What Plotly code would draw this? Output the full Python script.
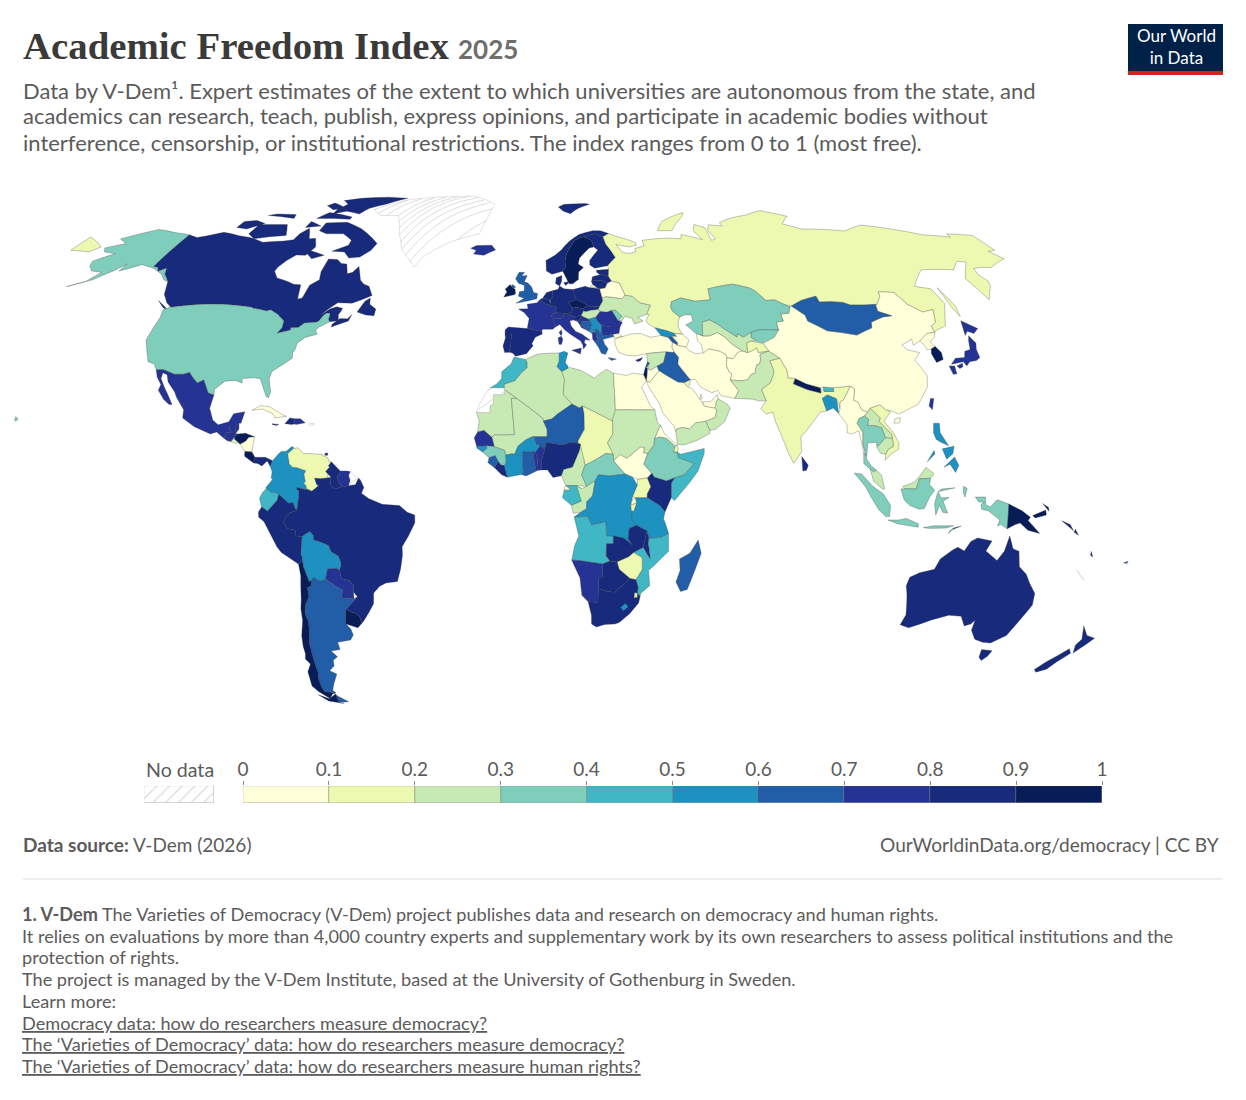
#import libraries
import numpy as np
import plotly.graph_objects as go

W = 1246
H = 1100
PAGE_MARGIN = 8  # the browser puts the plot 8px in from the page corner
TEXT_PAD = 2  # annotations sit this far inside their anchor

# Colour bins
tick_values = [0, 0.1, 0.2, 0.3, 0.4, 0.5, 0.6, 0.7, 0.8, 0.9, 1]
tick_labels = ["0", "0.1", "0.2", "0.3", "0.4", "0.5", "0.6", "0.7", "0.8", "0.9", "1"]
bin_colors = ["#ffffd9", "#edf8b1", "#c7e9b4", "#7fcdbb", "#41b6c4",
              "#1d91c0", "#225ea8", "#253494", "#172a7b", "#081d58"]

# Values estimated from the map colours (the middle of each bin)
countries = [
    "Canada", "USA", "Alaska", "Hawaii", "Mexico", "Guatemala", "Belize", "Honduras", "El Salvador", "Nicaragua",
    "Costa Rica", "Panama", "Cuba", "Jamaica", "Haiti", "Dominican Rep.", "Trinidad", "Colombia", "Venezuela",
    "Guyana", "Suriname", "Ecuador", "Peru", "Brazil", "Bolivia", "Paraguay", "Argentina", "Chile", "Uruguay",
    "Iceland", "Ireland", "UK", "France", "Spain", "Portugal", "Belgium", "Netherlands", "Luxembourg", "Germany",
    "Denmark", "Switzerland", "Austria", "Italy", "Poland", "Czechia", "Slovakia", "Hungary", "Slovenia", "Croatia",
    "Bosnia", "Serbia", "Kosovo", "Montenegro", "Albania", "N. Macedonia", "Greece", "Bulgaria", "Romania", "Moldova",
    "Ukraine", "Belarus", "Lithuania", "Latvia", "Estonia", "Finland", "Sweden", "Norway", "Russia", "Turkey",
    "Georgia", "Armenia", "Azerbaijan", "Cyprus", "Syria", "Lebanon", "Israel", "Jordan", "Iraq", "Saudi Arabia",
    "Kuwait", "Qatar", "UAE", "Oman", "Yemen", "Iran", "Afghanistan", "Pakistan", "India", "Nepal", "Bhutan",
    "Bangladesh", "Sri Lanka", "China", "Mongolia", "Kazakhstan", "Kyrgyzstan", "Tajikistan", "Uzbekistan",
    "Turkmenistan", "North Korea", "South Korea", "Japan", "Taiwan", "Myanmar", "Thailand", "Laos", "Vietnam",
    "Cambodia", "Malaysia", "Indonesia", "Timor-Leste", "Philippines", "Papua New Guinea", "Solomon Islands",
    "Vanuatu", "Fiji", "Australia", "New Zealand", "Morocco", "Algeria", "Tunisia", "Libya", "Egypt", "Mauritania",
    "Mali", "Niger", "Chad", "Sudan", "South Sudan", "Eritrea", "Ethiopia", "Djibouti", "Somalia", "Senegal",
    "Guinea-Bissau", "Guinea", "Sierra Leone", "Liberia", "Ivory Coast", "Burkina Faso", "Ghana", "Togo", "Benin",
    "Nigeria", "Cameroon", "Central African Rep.", "Eq. Guinea", "Gabon", "Congo", "DR Congo", "Uganda", "Kenya",
    "Rwanda", "Burundi", "Tanzania", "Angola", "Zambia", "Malawi", "Mozambique", "Zimbabwe", "Botswana", "Namibia",
    "South Africa", "Lesotho", "Eswatini", "Madagascar",
]
academic_freedom = [
    0.85, 0.35, 0.35, 0.35, 0.75, 0.75, 0.75, 0.95, 0.15, 0.05,
    0.95, 0.85, 0.05, 0.75, 0.85, 0.75, 0.85, 0.55, 0.15,
    0.85, 0.75, 0.45, 0.85, 0.85, 0.55, 0.75, 0.65, 0.95, 0.95,
    0.75, 0.95, 0.65, 0.75, 0.85, 0.85, 0.85, 0.85, 0.85, 0.85,
    0.85, 0.75, 0.85, 0.75, 0.85, 0.95, 0.85, 0.25, 0.85, 0.75,
    0.65, 0.55, 0.65, 0.55, 0.75, 0.65, 0.65, 0.75, 0.75, 0.35,
    0.25, 0.05, 0.85, 0.85, 0.85, 0.85, 0.95, 0.85, 0.15, 0.05,
    0.55, 0.65, 0.05, 0.85, 0.25, 0.65, 0.95, 0.05, 0.65, 0.05,
    0.15, 0.05, 0.05, 0.25, 0.25, 0.05, 0.05, 0.25, 0.15, 0.95, 0.45,
    0.55, 0.85, 0.05, 0.65, 0.35, 0.35, 0.15, 0.25,
    0.05, 0.05, 0.95, 0.75, 0.75, 0.05, 0.35, 0.25, 0.15,
    0.25, 0.25, 0.35, 0.75, 0.55, 0.95, 0.85,
    0.85, 0.65, 0.85, 0.85, 0.45, 0.25, 0.55, 0.25, 0.05, 0.25,
    0.25, 0.65, 0.15, 0.25, 0.05, 0.05, 0.35, 0.15, 0.45, 0.75,
    0.55, 0.35, 0.65, 0.85, 0.55, 0.55, 0.65, 0.75, 0.75,
    0.85, 0.25, 0.35, 0.05, 0.45, 0.25, 0.55, 0.15, 0.85,
    0.05, 0.15, 0.55, 0.45, 0.85, 0.85, 0.45, 0.15, 0.85, 0.75,
    0.85, 0.55, 0.15, 0.65,
]
no_data_countries = ["Greenland", "Western Sahara", "French Guiana", "Puerto Rico", "New Caledonia"]

# plotly's own basemap needs the network, so the outlines are rough hand estimates (lon,lat)
outlines = {
    "Canada": "-122.8,49 -95.2,49 -94.6,48.7 -92.6,48.5 -89.6,48 -88.4,48.3 -84.9,46.9 -84.3,46.4 -83.6,46.1 -82.4,45.3 -82.1,43.6 -83.1,42.1 -79,42.9 -79.2,43.5 -76.8,43.6 -75.3,44.8 -71.5,45 -70.7,45.4 -70,46.7 -69.2,47.4 -68.2,47.4 -67.8,47.1 -67.8,45.7 -67.1,45.1 -64.4,45.4 -65,47 -64.5,47.9 -64.3,48.7 -66.5,49.1 -68.5,48.5 -71.1,46.8 -69,48.5 -66.6,50.2 -61.7,50.1 -58.8,51 -55.7,52.2 -57.9,54.7 -60,55.3 -61.8,56.4 -64.6,60.3 -65.9,58.6 -67.6,58.2 -69.6,61 -71.7,61.1 -74,62.3 -77.5,62.4 -77.6,58.8 -76.6,56.5 -79.1,55 -79.5,51.5 -80.9,51.2 -82.3,55.1 -85,55.3 -87.4,56 -92.2,57 -94.7,58.9 -94.5,60.1 -93,62 -90.8,63.6 -87.2,63.5 -85.5,66 -88,68.6 -90.5,68.5 -94,71.8 -96,70 -96.5,68.2 -99.9,67.8 -108,67.4 -115,68.9 -120,69.4 -128,70.5 -133.5,69.3 -136.5,68.9 -141,69.7 -141,60.3 -139,60 -137.5,58.9 -135.5,59.8 -134,58.1 -130.5,56 -128,52.5 -125,50.2 -123,49.2|-80,73.7 -72,71.6 -68,70 -62,67 -63,65 -66,63 -70,62.7 -73,64.5 -78,64.7 -73,66.5 -73,68 -78,70 -85,70 -89,71 -89,73.5|-105,73 -101,69.5 -113,68.5 -117,70 -117,73 -110,73|-125,72 -120,71.5 -115,73.3 -120,74.3 -125,74|-90,76.5 -85,77.5 -78,76.5 -76,78.5 -70,80 -62,82.5 -72,83 -85,82.5 -92,81.5 -88,80 -90,78|-95,75 -80,74.7 -80,75.5 -92,77|-96,74 -90,72.5 -96,72|-95,80.5 -87,78.5 -92,78 -97,79.5|-118,76 -105,75 -106,76.3 -115,76.5|-87,65 -80,63.5 -84,62.5 -87,64|-59,47.7 -55.8,46.9 -53,46.7 -53,48.5 -55.5,49.8 -56,51.5 -57.5,50.6|-128.4,50.8 -123.5,48.5 -125,48.8|-66.1,43.7 -61,45.3 -60.5,47 -61.5,45.9 -64,46 -66,44.5",
    "USA": "-122.8,49 -95.2,49 -94.6,48.7 -92.6,48.5 -89.6,48 -88.4,48.3 -84.9,46.9 -84.3,46.4 -83.6,46.1 -82.4,45.3 -82.1,43.6 -83.1,42.1 -79,42.9 -79.2,43.5 -76.8,43.6 -75.3,44.8 -71.5,45 -70.7,45.4 -70,46.7 -69.2,47.4 -68.2,47.4 -67.8,47.1 -67.8,45.7 -67.1,45.1 -70,43.7 -70.8,42.9 -70,41.8 -73.7,40.9 -74,40.5 -75.5,39.5 -75.5,38 -76,36.9 -75.7,35.5 -77.9,34 -81,32 -81.3,30 -80.1,26.8 -80.4,25.2 -81.2,25.5 -82.7,28 -84,30.1 -86,30.4 -89.6,30.2 -89.4,29 -91.6,29.7 -94.7,29.5 -97.4,27.4 -97.2,25.9 -99.1,26.4 -101.4,29.8 -103.1,29 -104.7,30.2 -106.5,31.8 -108.2,31.3 -111,31.3 -114.8,32.5 -117.1,32.5 -118.4,34 -120.6,34.6 -122.5,37.5 -124.4,40.3 -124,46.3 -124.7,48.4",
    "Alaska": "-141,69.7 -141,60.3 -139,60 -137.5,58.9 -135.5,59.8 -134,58.1 -130.5,56 -132.5,56.5 -135,58 -140,59.7 -146,60.8 -150,59.5 -152,59 -151.7,61 -154,59 -158,56.5 -164.8,54.6 -160,56 -157.7,58.6 -162,59 -165,60.5 -166,61.8 -161,64 -166,64.5 -168,65.7 -162,67 -166.7,68.4 -156.6,71.4 -148,70.4",
    "Hawaii": "-155.5,19 -155,19.7 -155.9,20.2 -156,19.3",
    "Mexico": "-117.1,32.5 -114.8,32.5 -111,31.3 -108.2,31.3 -106.5,31.8 -104.7,30.2 -103.1,29 -101.4,29.8 -99.1,26.4 -97.2,25.9 -97.8,22.4 -96.3,19.3 -94.5,18.1 -91.4,18.9 -90.3,21 -87,21.5 -87.7,18.5 -88.3,18.5 -89.1,17.8 -91,17.8 -91,17.3 -90.5,16.1 -91.7,16 -92.2,14.5 -94.7,16.2 -96.5,15.7 -101.6,17.6 -105.5,19.9 -105.6,22 -108.4,25.2 -109.4,26.7 -112.2,29.3 -113.2,31.2 -114.7,31.7 -114.7,30.2 -112.8,27.8 -111.3,26 -109.4,23.4 -110.3,23.4 -112.2,24.7 -114.5,27.1 -114.2,28.6 -116,30.5",
    "Guatemala": "-92.2,14.5 -91.7,16 -90.5,16.1 -91,17.3 -91,17.8 -89.1,17.8 -89.2,15.9 -88.2,15.7 -89.2,14.9 -90.1,13.7 -91.2,13.9",
    "Belize": "-89.1,17.8 -88.3,18.5 -88.1,17 -88.9,15.9 -89.2,15.9",
    "Honduras": "-89.2,14.9 -88.2,15.7 -86,15.9 -83.2,15 -84.9,14.8 -85.7,13.8 -87.3,13 -87.8,13.4 -89,14",
    "El Salvador": "-90.1,13.7 -89.2,14.4 -87.8,13.4 -88.5,13.2",
    "Nicaragua": "-87.3,13 -85.7,13.8 -84.9,14.8 -83.2,15 -83.6,11 -85.7,11.1",
    "Costa Rica": "-85.7,11.1 -83.6,11 -82.6,9.6 -82.9,8.1 -85.7,9.9",
    "Panama": "-82.9,8.1 -82.6,9.6 -79.5,9.6 -77.3,8.7 -77.9,7.2 -78.9,8.6 -80.4,7.3 -81.7,8",
    "Cuba": "-84.9,21.9 -82.5,23.1 -79.7,22.8 -75.6,20.8 -74.2,20.3 -77.7,19.9 -78.5,21 -81.8,22.2",
    "Jamaica": "-78.3,18.4 -76.3,18.2 -76.9,17.9 -78.3,18.2",
    "Haiti": "-74.5,18.4 -73.2,19.9 -71.7,19.7 -71.7,18.3 -72.4,18.2",
    "Dominican Rep.": "-71.7,19.7 -70,19.7 -68.4,18.6 -71,18.2 -71.7,18.3",
    "Trinidad": "-61.7,10.7 -61,10.7 -61,10.1 -61.9,10.1",
    "Colombia": "-77.9,7.2 -77.3,8.7 -75.6,10.5 -74.9,11.1 -73.4,11.2 -71.8,12.4 -71.1,12.1 -71.9,11.4 -72.2,11.1 -72.9,10.5 -72.4,8.4 -72.4,8 -71.3,7 -70.1,6.9 -67.3,6.1 -67.8,5.2 -67.5,3.8 -67.3,3.3 -67.8,2.8 -67.2,2.3 -66.9,1.3 -67.1,1.1 -69.8,1.7 -69.8,1.1 -69.2,0.9 -69.3,-1 -69.9,-4.3 -70.4,-3.8 -71,-2.3 -72.3,-2.4 -73.7,-1.3 -75.2,-0.1 -76.3,0.4 -77.4,0.4 -78.9,1.4 -79,1.7 -77.1,3.8 -77.5,4.1 -77.3,5.8",
    "Venezuela": "-72.9,10.5 -72.2,11.1 -71.9,11.4 -71.3,11.8 -70,12.1 -68.2,10.6 -66.2,10.6 -64.3,10.4 -62.7,10.4 -62.7,10.1 -60.8,9.4 -60.7,8.6 -59.8,8.4 -60.6,7.4 -60.3,7 -61.4,5.9 -60.7,5.2 -60.9,4.2 -62.8,4 -64.6,4.1 -64,2.5 -63.4,2.2 -64.3,1.5 -65.4,0.7 -66.9,1.3 -67.2,2.3 -67.8,2.8 -67.3,3.3 -67.5,3.8 -67.8,5.2 -67.3,6.1 -70.1,6.9 -71.3,7 -72.4,8 -72.4,8.4",
    "Guyana": "-59.8,8.4 -57.1,6 -57.3,5 -58,4.8 -57.6,3.3 -56.5,1.9 -58.5,1.3 -59.6,1.8 -59.9,2.8 -59.8,4.4 -60.7,5.2 -61.4,5.9 -60.3,7 -60.6,7.4",
    "Suriname": "-57.1,6 -55,6 -54,5.8 -54.5,4.9 -54,3.6 -54.4,2.3 -55.9,1.8 -56.5,1.9 -57.6,3.3 -58,4.8 -57.3,5",
    "Ecuador": "-75.2,-0.1 -76.3,0.4 -77.4,0.4 -78.9,1.4 -80,0.4 -80.9,-1.1 -80.3,-3.4 -78.6,-4.5 -75.6,-1.6",
    "Peru": "-69.9,-4.3 -70.4,-3.8 -71,-2.3 -72.3,-2.4 -73.7,-1.3 -75.2,-0.1 -75.6,-1.6 -78.6,-4.5 -80.3,-3.4 -81.3,-4.7 -81.3,-6.1 -79.8,-7.2 -78.1,-10.4 -76.4,-13.8 -75.2,-15.3 -70.4,-18.3 -69.1,-17.6 -69.1,-16.5 -69.4,-15.7 -69.2,-14.8 -68.9,-12.9 -68.7,-11.1 -70.5,-11 -70.5,-9.5 -72.9,-9 -74,-7.3 -73,-5.7 -72,-4.9",
    "Brazil": "-57.6,-30.2 -56,-30.9 -55.2,-31 -53.8,-32 -53.4,-33.8 -52.7,-33.2 -50.7,-31 -48.9,-28.7 -48.5,-25.9 -46.5,-24.1 -44.5,-23.3 -41,-22.9 -39.8,-19.6 -39,-16 -39,-13.8 -37,-11 -35,-7.5 -35,-5.5 -37.2,-4.8 -39.5,-3 -41.5,-2.9 -44.6,-2.7 -48.6,-1.2 -50.7,0.2 -50,1.7 -51.1,3.7 -51.7,4.2 -52.6,2.5 -54.4,2.3 -55.9,1.8 -56.5,1.9 -58.5,1.3 -59.6,1.8 -59.9,2.8 -59.8,4.4 -60.9,4.2 -62.8,4 -64.6,4.1 -64,2.5 -63.4,2.2 -64.3,1.5 -65.4,0.7 -66.9,1.3 -67.1,1.1 -69.8,1.7 -69.8,1.1 -69.2,0.9 -69.3,-1 -69.9,-4.3 -72,-4.9 -73,-5.7 -74,-7.3 -72.9,-9 -70.5,-9.5 -70.5,-11 -68.7,-11.1 -66.3,-9.8 -65.3,-10.9 -65.4,-12 -63.2,-12.6 -61,-13.5 -60.3,-15.1 -58.2,-16.3 -57.6,-18.2 -58.2,-20 -57.9,-22.1 -55.6,-22.6 -54.3,-24 -54.6,-25.6 -53.6,-26.9",
    "Bolivia": "-68.7,-11.1 -66.3,-9.8 -65.3,-10.9 -65.4,-12 -63.2,-12.6 -61,-13.5 -60.3,-15.1 -58.2,-16.3 -57.6,-18.2 -58.2,-20 -59.1,-19.4 -61.8,-19.6 -62.7,-22.2 -64.4,-22.8 -66.3,-21.8 -67.1,-22.7 -67.8,-22.9 -68.2,-21.5 -69,-19 -69.1,-16.5 -69.4,-15.7 -69.2,-14.8 -68.9,-12.9",
    "Paraguay": "-58.2,-20 -57.9,-22.1 -55.6,-22.6 -54.3,-24 -54.6,-25.6 -54.7,-27.4 -58.6,-27.1 -57.8,-25.2 -60,-24 -62.7,-22.2 -61.8,-19.6 -59.1,-19.4",
    "Argentina": "-66.3,-21.8 -64.4,-22.8 -62.7,-22.2 -60,-24 -57.8,-25.2 -58.6,-27.1 -54.7,-27.4 -53.6,-26.9 -57.6,-30.2 -58.1,-32 -58.4,-34 -57.2,-35.3 -56.8,-36.9 -58,-38.2 -62.3,-38.8 -62.1,-40.7 -65.1,-41.1 -63.6,-42.6 -65.3,-43.5 -65.6,-45 -67.6,-46.3 -65.6,-47.2 -67.8,-49.9 -69,-51.6 -68.3,-52.3 -71.9,-52 -72.4,-50.7 -72.3,-48.5 -71.7,-46.8 -71.7,-44.4 -71.4,-38.9 -70.4,-36 -70,-33.3 -70.5,-31.4 -69.9,-29 -68.4,-26.9 -68.5,-24.5 -67.3,-24 -67.1,-22.7|-68.6,-52.6 -68.3,-53.1 -65.1,-54.7 -68.6,-54.9",
    "Chile": "-70.4,-18.3 -70.1,-21.4 -70.9,-27.6 -71.5,-30 -71.7,-33 -73.2,-37.1 -73.7,-39.9 -73.7,-41.8 -74.3,-43.2 -73.2,-44.5 -75,-46.6 -75.5,-50.4 -74,-52 -71.1,-53.8 -69.5,-52.5 -68.3,-52.3 -71.9,-52 -72.4,-50.7 -72.3,-48.5 -71.7,-46.8 -71.7,-44.4 -71.4,-38.9 -70.4,-36 -70,-33.3 -70.5,-31.4 -69.9,-29 -68.4,-26.9 -68.5,-24.5 -67.3,-24 -67.1,-22.7 -67.8,-22.9 -68.2,-21.5 -69,-19 -69.1,-17.6|-68.6,-52.6 -68.6,-54.9 -67,-55.2 -72,-54.5 -74.7,-52.8 -71.4,-53.9",
    "Uruguay": "-57.6,-30.2 -56,-30.9 -55.2,-31 -53.8,-32 -53.4,-33.8 -54.9,-35 -58.4,-34 -58.1,-32",
    "Iceland": "-24.3,65.6 -22.2,66.4 -16.2,66.5 -14.5,65.1 -18.8,63.5 -22.8,63.9 -22,64.9",
    "Ireland": "-9.7,53.9 -8,55.2 -7.4,54.6 -6.2,53.9 -6,52.6 -6.8,52.3 -10,51.8 -9,53.2",
    "UK": "-6,54.5 -7.2,55.2 -7.6,54.6 -6.7,54.2|-5.7,50.1 -1,50.8 1.4,51.3 1.7,52.7 0.3,53 -0.4,54.5 -1.7,55.6 -3,56 -2,57.7 -4,57.6 -3,58.6 -5,58.6 -6.2,56.8 -5,55.5 -3,55 -3,53.4 -4.6,53.3 -5,52 -3,51.4",
    "France": "2.5,51.1 4,50 6.1,49.5 8.1,49 7.6,47.6 6,46.7 6.8,46 7.3,44 7.4,43.7 6.5,43.1 3.1,43.1 3,42.5 -1.8,43.3 -1.2,46 -2.9,47.6 -4.8,48.5 -1.6,48.6 -1.9,49.8 1.5,50.2|8.6,42.3 9.4,43 9.5,42 9.2,41.4 8.7,42",
    "Spain": "-1.8,43.3 3,42.5 3.1,41.9 0.8,41 -0.3,39.3 0.1,38.8 -2,36.7 -5.4,36 -6.4,36.9 -7.4,37.1 -7.5,37.4 -7,39 -7,40 -6.9,41.9 -9,41.9 -9,43 -8,43.7",
    "Portugal": "-9,41.9 -6.9,41.9 -7,40 -7,39 -7.5,37.4 -7.4,37.1 -8.9,37 -9.5,38.7 -8.8,40.8",
    "Belgium": "2.5,51.1 3.4,51.4 4.3,51.4 5.6,51 6.1,50.1 6.1,49.5 4,50",
    "Netherlands": "3.4,51.4 4.8,53 6.9,53.5 7,52 6,50.8 5.6,51 4.3,51.4",
    "Luxembourg": "6.1,50.1 6.2,49.5 5.8,49.5",
    "Germany": "6.9,53.5 8.9,53.9 9.5,54.8 11,54 14.1,53.8 14.6,51.7 15,51.1 12.1,50.3 13.6,48.8 13,47.5 10.4,47.3 7.6,47.6 8.1,49 6.1,49.5 6.1,50.1 6,50.8 7,52",
    "Denmark": "8.1,55.5 8.5,57.1 10.6,57.7 10.3,56 9.5,54.8|11,55.7 12.5,56 12.7,55.6 11.7,54.9",
    "Switzerland": "6,46.7 7.6,47.6 9.6,47.5 10.5,46.9 10.1,46.2 9,45.9 7.8,45.9 6.8,46",
    "Austria": "9.6,47.5 10.4,47.3 13,47.5 13.6,48.8 15,49 16.9,48.6 17.1,48 16.2,46.8 13.8,46.5 12.4,47 10.5,46.9",
    "Italy": "6.8,46 7.8,45.9 9,45.9 10.1,46.2 10.5,46.9 12.4,47 13.8,46.5 13.7,45.6 12.3,45.4 12.6,44 14,42.5 16,41.8 18.5,40.2 16.9,40.4 16.5,39.7 17.2,39 16.1,37.9 16,39 15.4,40 14,40.8 12.2,41.8 10.5,42.9 8.9,44.4 7.4,43.7 7.3,44|12.4,37.6 15.5,38.2 15.1,36.6|8.2,40.9 9.2,41.3 9.7,40.5 9.2,39.1 8.4,39.2",
    "Poland": "14.1,53.8 18.6,54.7 19.7,54.4 23.5,54 24,50.7 22.6,49.1 19.8,49.2 18.9,49.5 15,51.1 14.6,51.7",
    "Czechia": "12.1,50.3 15,51.1 18.9,49.5 16.9,48.6 15,49 13.6,48.8",
    "Slovakia": "16.9,48.6 18.9,49.5 19.8,49.2 22.6,49.1 22.1,48.4 19.7,48.2 17.8,47.8 17.1,48",
    "Hungary": "17.1,48 17.8,47.8 19.7,48.2 22.1,48.4 22.7,47.9 21,46.3 18.5,45.8 16.5,46.5 16.2,46.8",
    "Slovenia": "13.7,45.6 13.8,46.5 16.2,46.8 16.5,46.5 15.3,45.5",
    "Croatia": "13.7,45.5 15.3,45.5 16.5,46.5 18.5,45.8 19.1,45.2 16,45.2 15.8,44.3 17.6,43 18.5,42.5 16,43.5 14.9,45.1 14.3,45.3",
    "Bosnia": "16,45.2 19.1,45.2 19.5,44.1 18.7,43.3 18.5,42.5 17.6,43 15.8,44.3",
    "Serbia": "18.5,45.8 21,46.3 21.5,45.2 22.7,44.2 22.4,42.3 21,42.1 20.1,42.8 19.3,43.2 18.7,43.3 19.5,44.1 19.1,45.2",
    "Kosovo": "20,42.7 20.8,43.2 21.7,42.6 21,42.1 20.5,42.2",
    "Montenegro": "18.5,42.5 18.7,43.3 19.3,43.2 20.1,42.8 19.7,42.5 19.3,41.9",
    "Albania": "19.3,41.9 19.7,42.5 20.5,42.2 20.5,41.3 21,40.6 20,39.7 19.3,40.5",
    "N. Macedonia": "20.5,41.3 20.5,42.2 21,42.1 22.4,42.3 23,41.4 21,40.9",
    "Greece": "21,40.6 21,40.9 23,41.4 26.1,41.8 26.3,41.2 23.7,40.7 22.6,40.4 23,39.2 24,38 23,36.5 21.7,36.8 21,38.3 20,39.7|23.7,35.7 26.3,35.3 24.7,34.9",
    "Bulgaria": "22.7,44.2 25.6,43.7 28.6,43.7 28,42 26.1,41.8 23,41.4 22.4,42.3",
    "Romania": "21,46.3 22.7,47.9 24.9,47.7 26.6,48.2 28.2,45.5 29.6,45 28.6,43.7 25.6,43.7 22.7,44.2 21.5,45.2",
    "Moldova": "26.6,48.2 28,48.2 29.8,46.5 28.2,45.5",
    "Ukraine": "24,50.7 24,51.6 25.3,51.9 30.7,51.3 32,52.3 34.4,52 36.6,50.2 40,49.6 38.2,47.1 35,46.3 36.5,45.3 33.5,44.5 33,46 30.7,46.6 29.6,45.4 28.2,45.5 29.8,46.5 28,48.2 26.6,48.2 24.9,47.7 22.7,47.9 22.1,48.4 22.6,49.1",
    "Belarus": "23.5,54 24,51.6 25.3,51.9 30.7,51.3 32,52.3 31.8,53 30.9,55.6 28.2,56.2 26.5,55.6 25.5,54.3",
    "Lithuania": "21,56 22.2,56.4 25,56.3 26.5,55.6 25.5,54.3 23.5,54 22.7,54.3 21.3,55.2",
    "Latvia": "21,56 21.6,57.4 24.4,57.9 25.2,58 27.4,57.5 28.2,56.2 26.5,55.6 25,56.3 22.2,56.4",
    "Estonia": "23.4,59.2 28,59.5 27.4,57.5 25.2,58 24.4,57.9 23.4,58.6",
    "Finland": "28.6,69.1 29,66.9 31.5,62.9 27.9,60.5 22.9,59.8 21.3,60.7 21.5,62 25.4,65.1 24,66 23.6,68 20.6,69.1 25.7,70",
    "Sweden": "11,58.9 11.5,59.4 12.3,60.1 12.1,61.6 13,64 13.9,65 16.8,68 20,69 20.6,69.1 23.6,68 24,66 22.2,65.7 17.8,62.7 17,61 18.8,60 16.8,58.7 16.4,56.6 14.2,55.4 12.9,55.4 11.8,57.5",
    "Norway": "11,58.9 7,58.1 5,59 5,62 8.5,63.5 11,65 14.8,67.8 19,69.8 25,71 28.2,71 31.3,70.1 28.6,69.1 25.7,70 20.6,69.1 20,69 16.8,68 13.9,65 13,64 12.1,61.6 12.3,60.1 11.5,59.4|12,79 15,80 25,80.3 27,80 21,78.5 17,76.6 14,77.5",
    "Russia": "27.9,60.5 31.5,62.9 29,66.9 28.6,69.1 31.3,70.1 33.5,69.4 41,67.4 41,66.5 38,66 33,66.7 34.8,64.4 37,64 40,64.6 40,65.5 44,66.3 44,68 54,68.7 60,68.5 61,69.8 68.5,68.2 66.8,71 69,73 72.6,72 72,68 74,68.5 73,71 75,72.9 80.5,72.5 80.5,73.6 87,75.1 95,76.1 104,77.7 113,75.7 107,73.2 113,71.5 130,70.9 140,72.8 150,71.6 160,69.7 170,69 170.5,70 180,69.5 180,65 177,64.7 179,62.5 170,60 166,60 163,59.7 162,58 163,56.2 162,54.8 156.8,51 155.8,56.8 163,61.5 160,61.8 155,59.3 143,59.3 135,54.7 140,54 140.5,50 135.5,44 132,43 130.7,42.3 130.8,44 133,45 135,48.4 131,47.7 127.5,49.8 125.9,53 120.7,53.2 120.2,52 117,49.6 113,49.6 108,49.6 106,50.3 102.3,50.5 98,50.4 98,52 92,50.8 87.8,49.3 87.3,49.2 85,50 83,51 80,50.8 77.8,53.4 76.5,54.2 71,55.3 68.2,55 61.6,54 61,51 55.7,50.6 51,51.5 47.5,50.5 46.7,49 47,48 49,46.4 48,45 47.7,43.5 48.6,41.8 46,42 43.7,42.7 40,43.5 38,44.5 37.5,45.5 39,47.1 38.2,47.1 40,49.6 36.6,50.2 34.4,52 32,52.3 31.8,53 30.9,55.6 28.2,56.2 27.4,57.5 28,59.5|-180,69 -170,66 -172,64.5 -180,65|142.5,54.3 143.5,49.2 142.5,46.5 141.9,48.9|20,54.4 22.7,54.3 21.3,55.2|52,71 56,74 68,77 66,75.5 58,71",
    "Turkey": "26.3,40.2 26.4,39 27.2,37 30,36.2 32.5,36.1 36,36.7 38,36.9 41,37.1 44.3,37 44.8,37.2 44.4,38.3 44.8,39.7 43.7,41 41.5,41.5 38,41 35,42 32,41.9 29,41.2 27.6,41|26.1,41.8 28,42 29,41.2 26.3,40.7",
    "Georgia": "40,43.5 43.7,42.7 46,42 46.5,41.2 45,41.3 43.7,41 41.5,41.5",
    "Armenia": "43.7,41 45,41.3 46.5,39.5 46.2,38.9 44.8,39.7",
    "Azerbaijan": "45,41.3 46.5,41.2 46,42 48.6,41.8 50.3,40.3 48.9,38.4 46.2,38.9 46.5,39.5",
    "Cyprus": "32.3,35 34.6,35.7 33.9,34.9 33,34.6",
    "Syria": "36,36.7 38,36.9 41,37.1 42.3,37.2 41,34.4 38.8,33.4 36.8,32.4 35.9,32.8 36,34.6",
    "Lebanon": "35.1,33.1 36,34.6 36.6,34.2 35.7,33.3",
    "Israel": "34.3,31.2 35,29.5 35.5,31.5 35.7,33 35.1,33.1",
    "Jordan": "35,29.5 36,29.2 39,32 39.2,32.2 38.8,33.4 36.8,32.4 35.8,32.7 35.5,31.5",
    "Iraq": "38.8,33.4 41,34.4 42.3,37.2 44.3,37 44.8,37.2 46,35.7 45.4,34 46.1,33 47.7,31 48.6,29.9 46.6,29.1 44.7,29.2 41,31.2 39.2,32.2",
    "Saudi Arabia": "35,29.5 36,29.2 39,32 39.2,32.2 41,31.2 44.7,29.2 46.6,29.1 47.5,28 48.8,27.6 50.2,25.6 51,24.6 52,23 55,22.5 55.7,22 55,20 52,19 49,18.6 47,17 45,17.4 43.2,17 42.8,16.4 42.5,17.5 39.2,21.3 38.5,23.5 35.5,28",
    "Kuwait": "46.6,29.1 48.6,29.9 48.2,28.5 47.5,28",
    "Qatar": "50.8,24.8 51.3,26.1 51.6,25",
    "UAE": "51.6,24.1 54,24.1 56.3,26 56.4,24.9 55.7,24 55.5,23 55,22.5 52,23",
    "Oman": "55.5,23 55.7,24 56.4,24.9 59,23.5 59.8,22.5 57.8,19 55,17 53.1,16.6 52,19 55,20 55.7,22 55,22.5",
    "Yemen": "42.8,16.4 43.2,13 45,12.8 49,14 53,15.8 53.1,16.6 52,19 49,18.6 47,17 45,17.4 43.2,17",
    "Iran": "44.8,39.7 46.2,38.9 48.9,38.4 49.5,37.5 51.5,36.7 54,36.9 54.8,37.4 56,38 59.2,37.4 61,36.5 61.2,35.7 60.5,33.7 60.9,32 61.7,31.4 60.9,29.8 63,27 61.5,25 57.4,25.7 56.5,27.1 54.7,26.5 51.5,27.9 50,30 48.6,29.9 47.7,31 46.1,33 45.4,34 46,35.7 44.8,37.2 44.4,38.3",
    "Afghanistan": "61.2,35.7 63,35.4 65,37.1 65.7,37.7 68,37 70,37.6 71.3,38.3 71.5,37 74.9,37.4 71.8,36.5 71.6,35.2 71,34 70,33.8 69.3,32.5 69,31.6 67.7,31.3 66.3,29.9 64.4,29.6 60.9,29.8 61.7,31.4 60.9,32 60.5,33.7",
    "Pakistan": "60.9,29.8 64.4,29.6 66.3,29.9 67.7,31.3 69,31.6 69.3,32.5 70,33.8 71,34 71.6,35.2 71.8,36.5 74.9,37.4 77.8,35.5 74.4,34.8 75,32.3 74.4,31 73,29 70,27.3 71,24.4 68.8,24.3 67,24.8 61.5,25 63,27",
    "India": "74.4,34.8 77.8,35.5 79,32.5 78.9,30.4 81,30.2 80.1,28.8 84,27.3 88,26.4 88.1,27.8 89,26.8 92,26.8 92,27.8 97.3,28.2 97,27.7 94.6,24.7 93.3,24 93,22.2 92.4,24.9 89.8,25.9 88.1,25 88.9,21.7 86.9,21.4 82,16.5 80.2,15 80,11 77.5,8 76,11 73,19 72.6,21.4 70.5,20.9 69,22.3 71,24.4 70,27.3 73,29 74.4,31 75,32.3",
    "Nepal": "80.1,28.8 81,30.2 84,28.8 88.1,27.8 88,26.4 84,27.3",
    "Bhutan": "89,26.8 89,28 92,27.8 92,26.8",
    "Bangladesh": "88.1,25 89.8,25.9 92.4,24.9 92.4,21 91,22.5 88.9,21.7",
    "Sri Lanka": "80,9.8 81.8,7.5 81.2,6.2 80.1,6",
    "China": "73.7,39.4 75,40.4 80.2,42.9 80.4,45 82.9,45.3 83,47.2 85.8,47.4 87.3,49.2 87.8,49.3 91,46.9 91,45.3 96,42.7 105,41.6 111,43.5 111.8,45 116.7,46.4 119.8,46.7 116,47.9 116.7,49.8 117,49.6 120.2,52 120.7,53.2 125.9,53 127.5,49.8 131,47.7 135,48.4 133,45 130.8,44 130.7,42.3 128,42 124.3,40 121.6,38.9 122,40.5 118,39 119,37.7 122.5,37 120,35 122,31 121,28 117,23.5 114,22.3 110.5,20.9 108.5,21.7 106.7,22 105.3,23.3 102.1,22.4 101.2,21.4 99.5,22 98.7,24 97.5,24.5 98.5,27.5 97.3,28.2 92,27.8 89,28 88.1,27.8 84,28.8 81,30.2 78.9,30.4 79,32.5 77.8,35.5 74.9,37.4|109,19.6 110.8,20 110.3,18.6 108.7,18.5",
    "Mongolia": "87.8,49.3 91,46.9 91,45.3 96,42.7 105,41.6 111,43.5 111.8,45 116.7,46.4 119.8,46.7 116,47.9 116.7,49.8 113,49.6 108,49.6 106,50.3 102.3,50.5 98,50.4 98,52 92,50.8",
    "Kazakhstan": "47,48 49,46.4 51,47 53,46.9 53,45.3 51,44.5 50.3,44.3 53,42 55,41.3 56,45 58.5,45.6 61,44.4 62,43.5 66,41 66.5,41.9 68,41 71,42.3 74,43 80.2,42.9 80.4,45 82.9,45.3 83,47.2 85.8,47.4 87.3,49.2 85,50 83,51 80,50.8 77.8,53.4 76.5,54.2 71,55.3 68.2,55 61.6,54 61,51 55.7,50.6 51,51.5 47.5,50.5 46.7,49",
    "Kyrgyzstan": "71,42.3 74,43 80.2,42.9 78,41 73.7,39.4 72,40 70.4,41",
    "Tajikistan": "68,37 70,37.6 71.3,38.3 71.5,37 74.9,37.4 73.7,39.4 70,40 68.5,39.5",
    "Uzbekistan": "56,45 58.5,45.6 61,44.4 62,43.5 66,41 66.5,41.9 68,41 71,42.3 70.4,41 72,40 70,40 68.5,39.5 68,37 66.5,37.4 64,39 61.9,41.1 60,42.2 57,41.3 55,41.3",
    "Turkmenistan": "53,42 55,41.3 57,41.3 60,42.2 61.9,41.1 64,39 66.5,37.4 65,37.1 63,35.4 61.2,35.7 61,36.5 59.2,37.4 56,38 54,36.9 53.9,39 53,40",
    "North Korea": "128,42 130.7,42.3 129.7,41 127.5,39.8 128.4,38.6 126.7,37.9 125.3,37.7 125.1,39 124.3,40",
    "South Korea": "128.4,38.6 129.4,37 129,35.2 126.5,34.4 126.1,36.7 126.7,37.9",
    "Japan": "130.9,33.9 133,35.5 136,35.7 137,37.3 139,37.8 140,40 141,41.4 142,39.5 141,37.8 140.8,35.7 139.3,34.9 137,34.6 135.5,33.5 135,34.6|130,33.5 131.7,33.5 131.4,31.4 130.2,31.3|132.4,33.5 134.5,34.2 134.2,33.3 133,32.8|140,41.5 141.7,45.4 145.5,43.3 143.2,42 141.5,42.6",
    "Taiwan": "121,25 122,25 120.9,22 120.1,23",
    "Myanmar": "92.4,21 93,22.2 93.3,24 94.6,24.7 97,27.7 97.3,28.2 98.5,27.5 97.5,24.5 98.7,24 99.5,22 101.2,21.4 100.1,20.4 98.3,19.7 97.5,18.5 98.9,16.2 98.5,13 99.1,10 98.5,10.7 97.7,16.5 95.4,15.7 94.2,16 94.4,18.2",
    "Thailand": "97.5,18.5 98.3,19.7 100.1,20.4 101.2,19.5 100.6,17.9 102.6,17.9 104.7,17.4 105.5,14.7 102.6,12.2 102.5,13.5 100.9,13.4 100,13.4 99.2,9.2 100.5,7.3 102,6.2 101,5.8 100.1,6.5 98.3,8 98.5,10.7 99.1,10 98.5,13 98.9,16.2",
    "Laos": "100.1,20.4 101.2,21.4 102.1,22.4 104.8,19.9 104.2,19 107.5,15.6 107.5,14.5 105.5,14.7 104.7,17.4 102.6,17.9 100.6,17.9 101.2,19.5",
    "Vietnam": "102.1,22.4 105.3,23.3 106.7,22 108.1,21.5 105.7,19 108,16 109.3,13.4 109,11.7 106.5,10.4 104.7,8.8 105,10.4 105.8,11.6 107.5,12.5 107.5,14.5 107.5,15.6 104.2,19 104.8,19.9",
    "Cambodia": "102.6,12.2 105.5,14.7 107.5,14.5 107.5,12.5 105.8,11.6 105,10.4 103.5,10.6",
    "Malaysia": "100.1,6.5 101,5.8 102,6.2 103.4,4.9 104.2,1.3 103.5,1.3 101,3.3|109.6,2 111.2,2.5 113,3.1 115,5 116.7,7 119,5.3 117.9,4.1 116,4 114.6,4 113.5,1.3 110,1.4",
    "Indonesia": "95.3,5.5 97.5,5.2 100.6,2.1 103.8,0 106,-3 105.8,-5.9 104.7,-5.9 102.6,-4.2 100.1,-0.7 98.6,1.8|105.4,-6.8 108.6,-6.8 110.9,-6.4 114.5,-7.8 114.5,-8.7 108.3,-7.8|109,1.3 110,1.4 113.5,1.3 114.6,4 116,4 117.9,4.1 117.5,2.5 119,1 117.5,-0.8 116,-3.8 114.5,-4 111.7,-3 110,-1.6|119.5,-5.5 120.5,-2.9 121.5,-4.8 123,-5 121.5,-1.9 123.3,-0.9 120.9,-1 120,0.6 125,1.6 120.9,1.3 119.8,0.2 119,-2.5|116,-8.8 119,-8.3 125,-8.3 122.9,-8.9 118,-9|123.6,-10.3 125,-9.2 125,-8.9 124,-9.6|127.5,2 128.6,1.5 128,-0.8 127.5,0.2|131,-0.8 134,-0.8 134.2,-2.8 135.5,-3.4 137.5,-1.5 141,-2.6 141,-9.1 139,-8 138,-8.4 138.6,-6.8 135,-4.4 133,-4 132.8,-2.7 133.7,-2.2 132,-2",
    "Timor-Leste": "125,-8.9 127.3,-8.4 125,-9.2",
    "Philippines": "120.5,18.5 122.2,18.5 122,16 124,12.6 121.7,13.6 120.5,14.3 120,16|122,7 125.4,9.7 126.5,7.5 125.4,5.6 123.9,7.8|122,11.8 125.6,12.5 125,10.5 123,9.1|117.2,8.4 119.5,11.4 119.7,10.5",
    "Papua New Guinea": "141,-2.6 145,-4.4 147.6,-6.1 147,-6.9 150.8,-10.3 147.2,-9.5 144.7,-7.6 143.3,-8 141,-9.1|148.3,-5.6 152,-4.2 152.3,-5.5 149,-6.3|151,-2.5 153,-4.5 152.8,-3.5",
    "Solomon Islands": "157,-7 160.8,-9.6 159.6,-8|161,-10 162.4,-10.8 161.3,-9.2",
    "Vanuatu": "167,-15 167.8,-16.5 167,-16",
    "Fiji": "177.4,-18 178.7,-17.6 178.5,-18.2",
    "Australia": "114.2,-26.3 113.4,-24 114,-21.8 116.7,-20.6 121,-19.7 122.2,-17 125.7,-14.5 127,-13.9 129,-14.9 130.6,-12.4 132.5,-11.5 136.9,-12.3 135.5,-14.9 139.3,-17.4 141,-15 142,-11 143.5,-14.3 145.4,-15 146.4,-19 149,-21 150.8,-23.5 153.1,-26 153.6,-29 151.7,-33 150,-37 146.3,-39 143.6,-38.8 140.6,-38 138.1,-35.6 137.8,-33 137,-34 135.2,-34.5 133,-32 129,-31.7 124,-33 118,-35 115,-34.2 115.7,-31.6|144.7,-40.7 148.3,-41 148,-42.5 146.9,-43.6 145.4,-42.7",
    "New Zealand": "172.7,-34.5 175.5,-37 178.5,-37.7 177,-39.5 175,-41.6 173.9,-39.5 174.7,-38|172.8,-40.5 174.3,-41.7 172,-43.9 170.6,-45.9 167.9,-46.7 166.7,-46 168.5,-44",
    "Morocco": "-5.9,35.8 -2.2,35.2 -1.8,34.5 -1.7,33 -3.5,31.7 -5.5,29.6 -8.7,28.7 -8.7,27.7 -13.1,27.7 -11,28.8 -9.6,30.2 -9.6,32 -6.8,34",
    "Algeria": "-2.2,35.2 1.5,36.6 8.4,36.9 8.3,34.7 7.6,33.3 9,32 9.8,30 9.3,26.1 11.9,23.5 7.5,20.9 5.7,19.6 3.2,19.1 3.1,19.7 1.8,20.6 -4.9,25 -8.7,27.3 -8.7,28.7 -5.5,29.6 -3.5,31.7 -1.7,33 -1.8,34.5",
    "Tunisia": "8.4,36.9 10,37.3 11.1,36.9 10.2,34.3 11.1,33.3 10.3,31.7 9,32 7.6,33.3 8.3,34.7",
    "Libya": "9,32 11.5,33.1 15,32.3 19.1,30.3 20,31 22.9,32.6 25,31.6 25,22 25,20 24,19.5 24,19 15.1,23 14.1,22.5 11.9,23.5 9.3,26.1 9.8,30",
    "Egypt": "25,31.6 29,31 31,31.6 34.3,31.2 35,29.5 33.3,28 34,26.6 35.7,23 36.9,22 31.5,22 25,22",
    "Mauritania": "-17,21.4 -13,21.3 -13,23 -12,23.5 -12,26 -8.7,26 -8.7,27.3 -4.9,25 -6.5,25 -5.5,16 -5.5,15.5 -9.5,15.4 -11.5,15.5 -12.2,14.8 -14.6,16.6 -16.5,16.2 -16.1,19.1",
    "Mali": "-12.2,14.8 -11.5,15.5 -9.5,15.4 -5.5,15.5 -5.5,16 -6.5,25 -4.9,25 1.8,20.6 3.1,19.7 3.2,19.1 4.3,16.9 4.3,15 0.4,15 -0.3,14.9 -2,14.2 -3,13.5 -4.4,12.5 -5.4,10.4 -6.2,10.5 -8,10.2 -8.4,11.4 -11.5,12.4",
    "Niger": "3.2,19.1 5.7,19.6 7.5,20.9 11.9,23.5 14.1,22.5 15.1,23 15.5,21 15.5,16.9 13.6,14 13.5,13.3 10.8,13.4 9,12.8 6.8,13.1 4,13.5 3.6,11.7 2.2,12.6 1,13 0.4,15 4.3,15 4.3,16.9",
    "Chad": "15.1,23 24,19 24,15.7 22.3,13.4 23.9,10.4 21.7,10.6 18.8,9 15.5,7.5 15.2,9 14,11.5 14.2,13 13.5,13.3 13.6,14 15.5,16.9 15.5,21",
    "Sudan": "24,19.5 25,22 31.5,22 36.9,22 37.5,18.6 38.4,18 36.4,14.4 36.1,12.7 34.2,10.6 33,10.7 33.2,12.2 32,12.2 28,9.3 26,10.3 24,8.7 23.9,10.4 22.3,13.4 24,15.7 24,19",
    "South Sudan": "24,8.7 26,10.3 28,9.3 32,12.2 33.2,12.2 33,10.7 34.2,10.6 33,7.8 35.3,5.4 34,4.2 31,3.8 29.6,4.4 27.4,5.2 25.1,7.5",
    "Eritrea": "36.4,14.4 38.4,18 39.3,15.9 43.1,12.7 42.4,12.5 40,14.5 37.9,14.9",
    "Ethiopia": "36.1,12.7 36.4,14.4 37.9,14.9 40,14.5 42.4,12.5 42,11 43,11 43.3,9.5 48,8 44.9,5 42,4.2 39.6,3.4 36,4.4 35.3,5.4 33,7.8 34.2,10.6",
    "Djibouti": "42.4,12.5 43.1,12.7 43.3,11.5 43,11 42,11",
    "Somalia": "43,11 44,10.4 51.1,11.9 51,10.5 49,6 46.5,3 42,-1.7 41,-1 41,2.8 42,4.2 44.9,5 48,8 43.3,9.5",
    "Senegal": "-16.5,16.2 -14.6,16.6 -12.2,14.8 -11.5,12.4 -13.7,12.6 -16.7,12.4 -17.5,14.7",
    "Guinea-Bissau": "-16.7,12.4 -13.7,12.6 -13.7,11.8 -15,11 -16.7,12",
    "Guinea": "-13.7,12.6 -11.5,12.4 -8.4,11.4 -8,10.2 -7.9,8.3 -9.4,7.5 -10.2,8.4 -11.2,10 -13,9.5 -15,11 -13.7,11.8",
    "Sierra Leone": "-13,9.5 -11.2,10 -10.2,8.4 -11.4,6.9 -13.3,8.2",
    "Liberia": "-11.4,6.9 -10.2,8.4 -9.4,7.5 -8.5,7.6 -7.5,4.4 -9.2,5",
    "Ivory Coast": "-8,10.2 -6.2,10.5 -5.4,10.4 -3,9.9 -2.8,5.3 -3.3,5.1 -7.5,4.4 -8.5,7.6 -7.9,8.3",
    "Burkina Faso": "-5.4,10.4 -4.4,12.5 -3,13.5 -2,14.2 -0.3,14.9 0.4,15 1,13 2.2,12.6 0.8,10.9 -2.9,11 -3,9.9",
    "Ghana": "-3,9.9 -2.9,11 0.1,11 0.6,8 1.1,6 -1,5.1 -2,4.7 -3.3,5.1 -2.8,5.3",
    "Togo": "0.1,11 0.8,10.9 1.4,9.3 1.6,6.2 1.1,6 0.6,8",
    "Benin": "0.8,10.9 2.2,12.6 3.6,11.7 2.7,9 2.7,6.3 1.6,6.2 1.4,9.3",
    "Nigeria": "2.7,6.3 2.7,9 3.6,11.7 4,13.5 6.8,13.1 9,12.8 10.8,13.4 13.5,13.3 14.2,13 14,11.5 11.8,7 9.2,6.4 8.5,4.8 6,4.3 4.4,6.3",
    "Cameroon": "8.5,4.8 9.2,6.4 11.8,7 14,11.5 14.2,13 15.2,9 15.5,7.5 14.5,5 16,2 13,2.2 9.8,2.2",
    "Central African Rep.": "15.5,7.5 18.8,9 21.7,10.6 23.9,10.4 24,8.7 25.1,7.5 27.4,5.2 22.8,4.7 19.5,5 18.5,3.5 16,2 14.5,5",
    "Eq. Guinea": "9.6,2.2 11.3,2.2 11.3,1 9.3,1",
    "Gabon": "9.8,2.2 11.3,2.2 13,2.2 14.4,1.4 14.4,-1.9 13,-2.4 11.5,-3 8.8,-1 9.3,1 11.3,1",
    "Congo": "13,2.2 14.4,1.4 16,2 18.5,3.5 17.7,-0.5 16,-2 15.9,-3.9 14.2,-4.8 12,-5 11.5,-3 13,-2.4 14.4,-1.9",
    "DR Congo": "18.5,3.5 19.5,5 22.8,4.7 27.4,5.2 29.6,4.4 31,2.3 29.6,-0.6 29,-2.9 29.3,-4.5 29.5,-6.5 30.8,-8.2 28.7,-9 28.4,-11.8 29.8,-13.4 27.2,-11.6 22,-11 21.7,-7.3 17.5,-8.1 16.3,-5.9 12.3,-6 14.2,-4.8 15.9,-3.9 16,-2 17.7,-0.5",
    "Uganda": "31,2.3 31,3.8 34,4.2 35,1.9 33.9,0 33.9,-1 30.4,-1 29.6,-0.6",
    "Kenya": "34,4.2 35.3,5.4 36,4.4 39.6,3.4 42,4.2 41,2.8 41,-1 39.2,-4.7 37.7,-3.1 33.9,-1 33.9,0 35,1.9",
    "Rwanda": "30.4,-1 30.8,-2.3 29,-2.9 29.6,-1.4",
    "Burundi": "29,-2.9 30.8,-2.4 30,-4.5 29.3,-4.5",
    "Tanzania": "33.9,-1 37.7,-3.1 39.2,-4.7 38.8,-6.5 39.5,-8 40.4,-10.3 38.4,-11.3 34.6,-11.6 33.9,-9.6 30.8,-8.2 29.5,-6.5 29.3,-4.5 30,-4.5 30.8,-2.4 30.4,-1",
    "Angola": "12.3,-6 16.3,-5.9 17.5,-8.1 21.7,-7.3 22,-11 24,-11 24,-13 22,-13 22,-16.2 23.2,-17.5 21,-18.3 14,-17.4 11.7,-17.3 12.5,-13.5 13.7,-11",
    "Zambia": "22,-16.2 22,-13 24,-13 24,-11 27.2,-11.6 29.8,-13.4 28.4,-11.8 28.7,-9 30.8,-8.2 33.9,-9.6 33,-14 30.2,-15.3 28.8,-16.4 25.3,-17.8 23.2,-17.5",
    "Malawi": "33.9,-9.6 34.6,-11.6 34.5,-13 35.3,-17 34.4,-16 33,-14",
    "Mozambique": "34.6,-11.6 38.4,-11.3 40.4,-10.3 40.6,-15 36.5,-18.7 34.9,-20 35.5,-24 32.9,-26 32.8,-26.8 31.9,-25.9 32,-24.4 31.2,-22.4 33,-19.7 32.8,-16.7 30.2,-15.3 33,-14 34.4,-16 35.3,-17 34.5,-13",
    "Zimbabwe": "25.3,-17.8 28.8,-16.4 30.2,-15.3 32.8,-16.7 33,-19.7 31.2,-22.4 29.4,-22.1 26,-19.7",
    "Botswana": "21,-18.3 23.2,-17.5 25.3,-17.8 26,-19.7 29.4,-22.1 26.8,-24.2 25,-25.7 22.8,-25.5 20,-24.8 20,-22 21,-22",
    "Namibia": "11.7,-17.3 14,-17.4 21,-18.3 21,-22 20,-22 20,-24.8 20,-28.4 17,-28.2 15,-26.5 14.3,-22",
    "South Africa": "17,-28.2 20,-28.4 20,-24.8 22.8,-25.5 25,-25.7 26.8,-24.2 29.4,-22.1 31.2,-22.4 32,-24.4 31.9,-25.9 32.8,-26.8 32.5,-28.5 30,-31.3 27,-33.6 25.7,-34 22.5,-34.1 20,-34.8 18.4,-34 18.2,-31.7",
    "Lesotho": "27,-29.6 28.5,-28.6 29.4,-29.5 28,-30.6",
    "Eswatini": "31,-25.8 31.9,-25.9 32,-27 31,-27.2",
    "Madagascar": "49.3,-12 50.4,-15.5 47,-25 45,-25.5 43.4,-23 44.4,-20 44,-17 47,-15.5",
    "Greenland": "-73,78 -68,76 -60,76 -55,70 -51,65 -44,60 -42,63 -33,67.5 -22,70 -20,75 -18,80 -30,83.5 -60,82 -68,80",
    "Western Sahara": "-13.1,27.7 -8.7,27.7 -8.7,26 -12,26 -12,23.5 -13,23 -13,21.3 -17,21.4 -16,23.7 -14.5,26",
    "French Guiana": "-54,5.8 -52.6,4.6 -51.7,4.2 -52.6,2.5 -54.4,2.3 -54,3.6 -54.5,4.9",
    "Puerto Rico": "-67.2,18.5 -65.6,18.4 -65.8,18 -67.2,18",
    "New Caledonia": "164,-20 167,-22.4 166,-22",
}

subtitle_lines = [
    "Data by V-Dem¹. Expert estimates of the extent to which universities are autonomous from the state, and",
    "academics can research, teach, publish, express opinions, and participate in academic bodies without",
    "interference, censorship, or institutional restrictions. The index ranges from 0 to 1 (most free).",
]
footnote_lines = [
    "<b>1. V-Dem</b> The Varieties of Democracy (V-Dem) project publishes data and research on democracy and human rights.",
    "It relies on evaluations by more than 4,000 country experts and supplementary work by its own researchers to assess political institutions and the",
    "protection of rights.",
    "The project is managed by the V-Dem Institute, based at the University of Gothenburg in Sweden.",
    "Learn more:",
]
footnote_links = [
    "Democracy data: how do researchers measure democracy?",
    "The ‘Varieties of Democracy’ data: how do researchers measure democracy?",
    "The ‘Varieties of Democracy’ data: how do researchers measure human rights?",
]


def parse_rings(name):
    rings = []
    for part in outlines[name].split("|"):
        ring = [[float(v) for v in p.split(",")] for p in part.split()]
        rings.append(ring)
    return rings


def clockwise(ring):
    # d3 wants rings clockwise, otherwise the polygon fills the whole globe
    area = sum(a[0] * b[1] - b[0] * a[1] for a, b in zip(ring, ring[1:] + ring[:1]))
    ring = ring[::-1] if area > 0 else ring
    return ring + [ring[0]]


def country_trace(name, fill, line_color, line_width):
    # Scattergeo has no locationmode, so the geo subplot does not try to fetch its topojson
    lons, lats = [], []
    for ring in parse_rings(name):
        closed = clockwise(ring)
        lons += [p[0] for p in closed] + [None]
        lats += [p[1] for p in closed] + [None]
    return go.Scattergeo(lon=lons[:-1], lat=lats[:-1], mode="lines", fill="toself", fillcolor=fill,
                         line=dict(color=line_color, width=line_width), name=name,
                         hoverinfo="name", showlegend=False)


def hatch_lines(name, slope=0.6, step=3.2):
    # diagonal no data hatching, clipped to the outline
    lons, lats = [], []
    for ring in parse_rings(name):
        ring = ring + [ring[0]]
        offs = [p[1] - slope * p[0] for p in ring]
        for c in np.arange(np.floor(min(offs) / step) * step, max(offs), step):
            hits = []
            for a, b, oa, ob in zip(ring, ring[1:], offs, offs[1:]):
                if (oa - c) * (ob - c) < 0:
                    t = (c - oa) / (ob - oa)
                    hits.append(a[0] + t * (b[0] - a[0]))
            hits.sort()
            for x0, x1 in zip(hits[0::2], hits[1::2]):
                lons += [x0, x1, None]
                lats += [c + slope * x0, c + slope * x1, None]
    return lons, lats


def px(x):
    return (x - PAGE_MARGIN) / W


def py(y):
    return 1 - (y - PAGE_MARGIN) / H


def label(x, y, text, size, color="#5b5b5b", family="Lato", anchor="left", **font_kw):
    shift = {"left": -TEXT_PAD, "right": TEXT_PAD, "center": 0}[anchor]
    return dict(xref="paper", yref="paper", x=px(x + shift), y=py(y), text=text, showarrow=False,
                xanchor=anchor, yanchor="middle", align=anchor,
                font=dict(family=family, size=size, color=color, **font_kw))


fig = go.Figure()

# Countries, coloured by the legend bin they fall in
for name, value in zip(countries, academic_freedom):
    fig.add_trace(country_trace(name, bin_colors[min(int(value * 10), 9)], "#3a3a3a", 0.3))

# No data countries: white fill, grey outline and hatching
for name in no_data_countries:
    fig.add_trace(country_trace(name, "#ffffff", "#c4c4c4", 0.5))
hatch_lon, hatch_lat = [], []
for name in no_data_countries:
    lons, lats = hatch_lines(name)
    hatch_lon += lons
    hatch_lat += lats
fig.add_trace(go.Scattergeo(lon=hatch_lon, lat=hatch_lat, mode="lines",
                            line=dict(color="#cfcfcf", width=0.7), hoverinfo="skip", showlegend=False))

# Colour legend, drawn as a stacked bar on its own axis
fig.add_trace(go.Bar(y=["legend"] * 10, x=[0.1] * 10, base=tick_values[:-1], orientation="h",
                     marker=dict(color=bin_colors, line=dict(color="#6f6f6f", width=0.4)),
                     width=1, xaxis="x", yaxis="y", showlegend=False, hoverinfo="skip"))
# No data swatch
fig.add_trace(go.Bar(y=["legend"], x=[1], orientation="h", width=1, xaxis="x2", yaxis="y2",
                     marker=dict(color="#ffffff", line=dict(color="#a8a8a8", width=0.6),
                                 pattern=dict(shape="/", fgcolor="#a8a8a8", bgcolor="#ffffff", size=9, solidity=0.12)),
                     showlegend=False, hoverinfo="skip"))

# The map is clipped to its fitted box, so the domain is kept high enough for the Arctic to show
fig.update_geos(projection_type="robinson", projection_scale=0.976,
                center=dict(lon=29.2, lat=9.15),
                domain=dict(x=[0, 1], y=[1 - 902 / H, 1]),
                showframe=False, showcoastlines=False, showland=False, showocean=False,
                showlakes=False, showrivers=False, showcountries=False, showsubunits=False,
                bgcolor="rgba(0,0,0,0)")

annotations = [
    label(23, 45, "<b>Academic Freedom Index</b>", 38.8, color="#3a3a3a", family="Liberation Serif"),
    label(458, 49, "<b>2025</b>", 26, color="#6e6e6e"),
    label(1176, 47, "Our World<br>in Data", 17, color="#ffffff", anchor="center"),
    label(180, 769, "No data", 19.6, anchor="center"),
    label(23, 844, "<b>Data source:</b> V-Dem (2026)", 19),
    label(1219, 844, "OurWorldinData.org/democracy | CC BY", 19.1, anchor="right"),
]
for y, line in zip([90, 116, 142], subtitle_lines):
    annotations.append(label(23, y, line, 22))
for y, line in zip([914, 936, 957, 979, 1001], footnote_lines):
    annotations.append(label(22, y, line, 18.14))
for y, line in zip([1023, 1044, 1066], footnote_links):
    annotations.append(label(22, y, line, 18.14, lineposition="under"))

shapes = [
    dict(type="rect", xref="paper", yref="paper", x0=px(1128), x1=px(1223), y0=py(24), y1=py(75),
         fillcolor="#002147", line_width=0, layer="below"),
    dict(type="rect", xref="paper", yref="paper", x0=px(1128), x1=px(1223), y0=py(71), y1=py(75),
         fillcolor="#ce261e", line_width=0),
    dict(type="line", xref="paper", yref="paper", x0=px(23), x1=px(1223), y0=py(879), y1=py(879),
         line=dict(color="#dddddd", width=1)),
]

fig.update_layout(
    width=W, height=H, margin=dict(l=0, r=0, t=0, b=0, autoexpand=False), autosize=False,
    paper_bgcolor="#ffffff", plot_bgcolor="rgba(0,0,0,0)", barmode="overlay", bargap=0,
    annotations=annotations, shapes=shapes, showlegend=False,
    xaxis=dict(domain=[px(243), px(1102)], range=[0, 1], side="top", anchor="y", tickvals=tick_values,
               ticktext=tick_labels, ticks="outside", ticklen=4, tickcolor="#8a8a8a", tickwidth=1,
               ticklabelstandoff=-3, tickfont=dict(family="Lato", size=19, color="#5b5b5b"),
               showgrid=False, zeroline=False, showline=False, fixedrange=True),
    yaxis=dict(domain=[py(803), py(786)], visible=False, fixedrange=True),
    xaxis2=dict(domain=[px(144), px(214)], range=[0, 1], anchor="y2", visible=False, fixedrange=True),
    yaxis2=dict(domain=[py(803), py(786)], visible=False, fixedrange=True, anchor="x2"),
)

fig.write_html("out.html")
